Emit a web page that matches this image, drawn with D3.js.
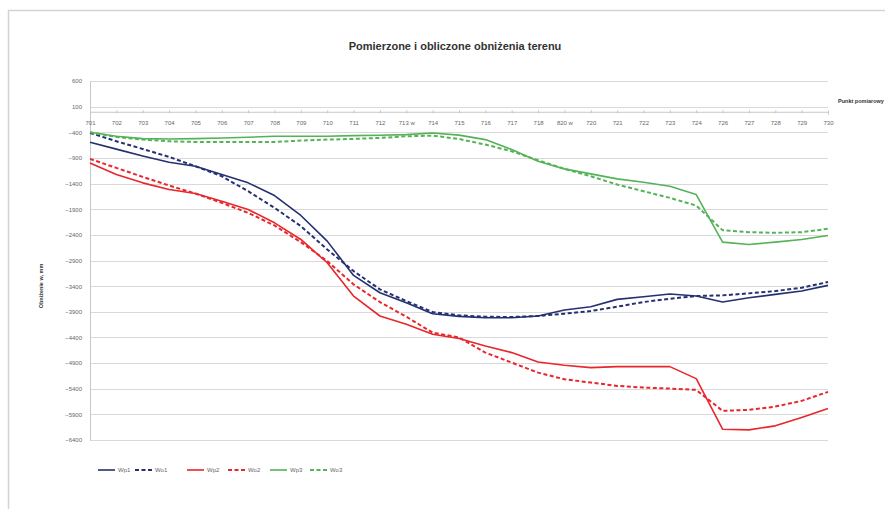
<!DOCTYPE html>
<html><head><meta charset="utf-8">
<script src="https://cdn.jsdelivr.net/npm/d3@7"></script>
<style>
body{margin:0;background:#fff;}
svg{display:block;font-family:"Liberation Sans Narrow","Liberation Sans",sans-serif;}
</style></head>
<body><svg id="c" width="885" height="509"></svg>
<script>
const categories = ["701","702","703","704","705","706","707","708","709","710","711","712","713 w","714","715","716","717","718","820 w","720","721","722","723","724","726","727","728","729","730"];
const yTicks = [600,100,-400,-900,-1400,-1900,-2400,-2900,-3400,-3900,-4400,-4900,-5400,-5900,-6400];
const wp1 = [-595,-728,-862,-984,-1062,-1224,-1386,-1633,-2022,-2522,-3191,-3528,-3723,-3937,-3990,-4015,-4015,-3982,-3866,-3801,-3658,-3606,-3554,-3593,-3710,-3626,-3561,-3496,-3385];
const wo1 = [-413,-575,-725,-880,-1062,-1257,-1549,-1873,-2230,-2684,-3106,-3463,-3690,-3905,-3970,-3996,-4002,-3982,-3937,-3885,-3801,-3710,-3645,-3593,-3580,-3541,-3496,-3431,-3320];
const wp2 = [-997,-1224,-1386,-1516,-1594,-1743,-1906,-2165,-2490,-2944,-3593,-3982,-4145,-4339,-4420,-4567,-4696,-4878,-4943,-4988,-4969,-4969,-4969,-5203,-6189,-6202,-6124,-5962,-5787];
const wo2 = [-919,-1094,-1270,-1438,-1594,-1776,-1971,-2217,-2542,-2912,-3366,-3710,-3996,-4307,-4400,-4696,-4891,-5086,-5216,-5280,-5345,-5378,-5397,-5423,-5832,-5813,-5748,-5637,-5462];
const wp3 = [-400,-478,-523,-530,-523,-510,-497,-478,-478,-478,-465,-458,-445,-413,-455,-543,-737,-965,-1114,-1211,-1309,-1374,-1451,-1614,-2542,-2587,-2542,-2490,-2412];
const wo3 = [-400,-490,-543,-575,-588,-588,-588,-588,-562,-543,-530,-510,-478,-465,-530,-640,-770,-945,-1114,-1257,-1419,-1549,-1679,-1828,-2308,-2347,-2360,-2347,-2282];
const seriesNames = ["Wp1","Wo1","Wp2","Wo2","Wp3","Wo3"];
const seriesColors = ["#24306f","#24306f","#e8262b","#e8262b","#54b257","#54b257"];
const seriesDashed = [false,true,false,true,false,true];
const seriesValues = [wp1,wo1,wp2,wo2,wp3,wo3];

const svg = d3.select("#c");
// frame
svg.append("rect").attr("x",8.5).attr("y",10.5).attr("width",900).attr("height",520)
  .attr("fill","none").attr("stroke","#d4d4d4").attr("stroke-width",1.5);

const x = d3.scalePoint().domain(categories).range([90,828]);
const y = d3.scaleLinear().domain([-6400,600]).range([440,81]);

// grid
svg.append("g").selectAll("line").data(yTicks).join("line")
  .attr("x1",90).attr("x2",828).attr("y1",d=>Math.round(y(d))+0.5).attr("y2",d=>Math.round(y(d))+0.5)
  .attr("stroke","#d9d9d9").attr("stroke-width",1);

// y axis
const ya = svg.append("g").attr("transform","translate(90,0)")
  .call(d3.axisLeft(y).tickValues(yTicks).tickSize(0).tickPadding(8).tickFormat(d3.format("d")));
ya.select(".domain").attr("stroke","#c8c8c8");
ya.selectAll("text").attr("font-size",6).attr("fill","#666");

// x axis at 0
const xa = svg.append("g").attr("transform",`translate(0,${y(0)})`)
  .call(d3.axisBottom(x).tickSize(3).tickPadding(6));
xa.select(".domain").attr("stroke","#c8c8c8");
xa.selectAll(".tick line").attr("stroke","#c8c8c8").attr("transform","translate(0,-1.5)");
xa.selectAll("text").attr("font-size",6).attr("fill","#666");

// lines
const line = d3.line().x((d,i)=>x(categories[i])).y(d=>y(d));
seriesValues.forEach((vals,k)=>{
  svg.append("path").datum(vals).attr("d",line).attr("fill","none")
    .attr("stroke",seriesColors[k]).attr("stroke-width",seriesDashed[k]?2:1.6)
    .attr("stroke-dasharray",seriesDashed[k]?"4,2.5":null)
    .attr("stroke-linejoin","round");
});

// title
svg.append("text").attr("x",455).attr("y",50).attr("text-anchor","middle")
  .attr("font-size",11).attr("font-weight","bold").attr("fill","#333")
  .text("Pomierzone i obliczone obniżenia terenu");

// axis titles
svg.append("text").attr("x",838).attr("y",103).attr("font-size",5.5).attr("font-weight","bold").attr("fill","#333")
  .text("Punkt pomiarowy");
svg.append("text").attr("transform","translate(43,286) rotate(-90)").attr("text-anchor","middle")
  .attr("font-size",5.5).attr("font-weight","bold").attr("fill","#333")
  .text("Obniżenie w, mm");

// legend
const lx = [98,135,187,228,270,310];
const lg = svg.append("g").selectAll("g").data(seriesNames).join("g")
  .attr("transform",(d,i)=>`translate(${lx[i]},470)`);
lg.append("line").attr("x1",0).attr("x2",17).attr("y1",0).attr("y2",0)
  .attr("stroke",(d,i)=>seriesColors[i]).attr("stroke-width",(d,i)=>seriesDashed[i]?2:1.6)
  .attr("stroke-dasharray",(d,i)=>seriesDashed[i]?"4,2.5":null);
lg.append("text").attr("x",20).attr("y",2).attr("font-size",6).attr("fill","#666").text(d=>d);
</script></body></html>
